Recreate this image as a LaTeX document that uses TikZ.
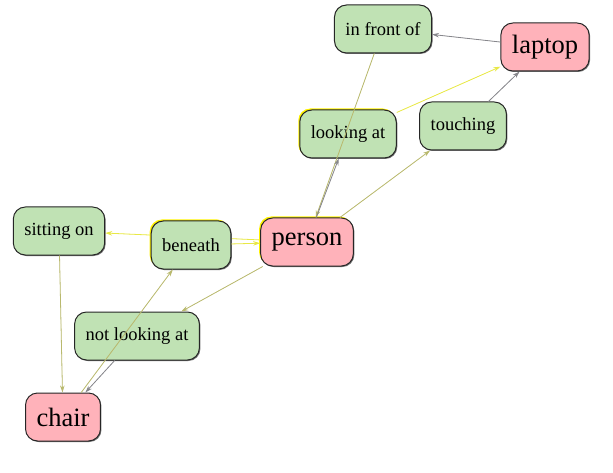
\documentclass[tikz,border=0pt]{standalone}
\usepackage{fontspec}
\setmainfont{Liberation Serif}
\usetikzlibrary{arrows.meta,shadows,backgrounds}
\definecolor{relgreen}{RGB}{192,226,180}
\definecolor{objpink}{RGB}{255,178,186}
\definecolor{edgegray}{RGB}{135,135,140}
\definecolor{edgeyel}{RGB}{232,232,70}
\definecolor{edgemix}{RGB}{185,185,110}
\tikzset{
  box/.style={draw=black!85, line width=1pt, rounded corners=12pt,
    minimum height=48pt, inner xsep=11pt,
    drop shadow={shadow xshift=1pt, shadow yshift=-1pt, fill=black!55, opacity=1}},
  rel/.style={box, fill=relgreen, font=\fontsize{18.5}{20}\selectfont},
  obj/.style={box, fill=objpink, font=\fontsize{26.5}{28}\selectfont},
  hl/.style={general shadow={shadow xshift=-1.5pt, shadow yshift=1.5pt, fill=yellow}},
  link/.style={-{Stealth[length=7pt,width=4.5pt]}, line width=0.8pt, draw=edgegray, fill=edgegray},
  ylink/.style={link, draw=edgeyel, fill=edgeyel},
  mlink/.style={link, draw=edgemix, fill=edgemix}
}
\begin{document}
\begin{tikzpicture}[x=1pt, y=-1pt]
            \useasboundingbox (0,0) rectangle (613,473);

            % objects
            \node[obj] (laptop) at (545,47) {laptop};
            \node[obj, hl] (person) at (307,242) {person};
            \node[obj] (chair) at (63,417) {chair};

            % relations
            \node[rel] (infront) at (383,29) {in front of};
            \node[rel, hl] (lookat) at (348,134) {looking at};
            \node[rel] (touch) at (463,126) {touching};
            \node[rel] (sitting) at (59,231) {sitting on};
            \node[rel, hl] (beneath) at (191,245) {beneath};
            \node[rel] (notlook) at (137,336) {not looking at};

            % this one runs behind beneath
            \begin{scope}[on background layer]
                \draw[ylink] (person) -- (sitting);
            \end{scope}

            \draw[link] (laptop) -- (infront);
            \draw[mlink] (infront) -- (person);
            \draw[link] (person) -- (lookat);
            \draw[ylink] (lookat) -- (laptop);
            \draw[mlink] (person) -- (touch);
            \draw[link] (touch) -- (laptop);
            \draw[mlink] (sitting) -- (chair);
            \draw[mlink] (chair) -- (beneath);
            \draw[ylink] (beneath) -- (person);
            \draw[mlink] (person) -- (notlook);
            \draw[link] (notlook) -- (chair);
        \end{tikzpicture}
\end{document}
